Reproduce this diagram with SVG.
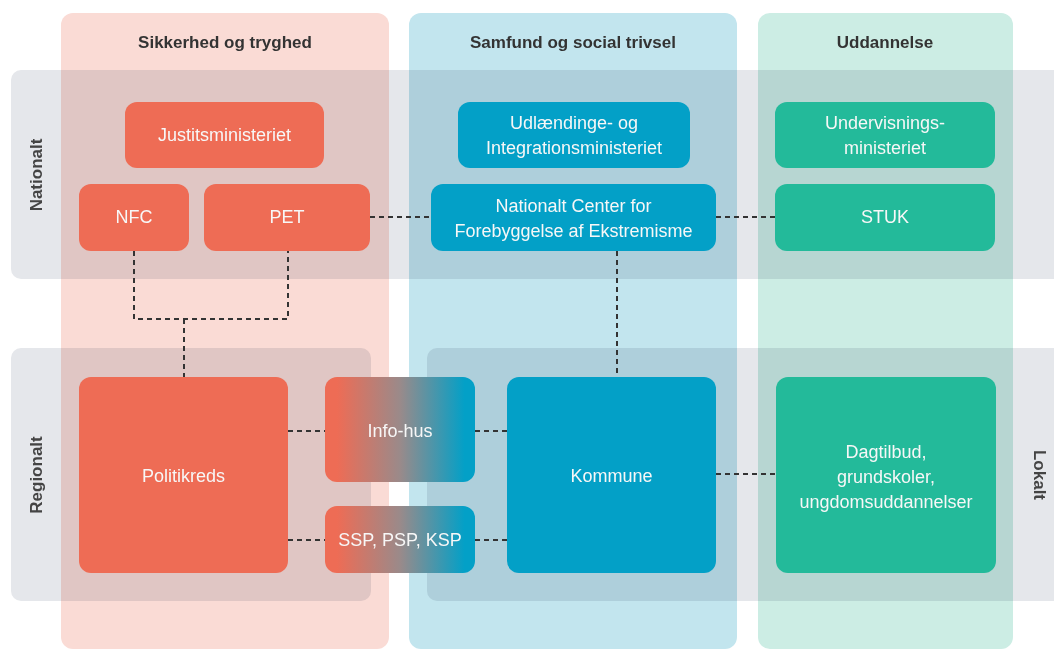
<svg xmlns="http://www.w3.org/2000/svg" width="1054" height="650" viewBox="0 0 1054 650">
<defs>
<style>
.col{stroke:none}
.row{fill:#E5E7EB;mix-blend-mode:multiply}
.hdr{font-family:"Liberation Sans",Arial,sans-serif;font-size:17px;font-weight:bold;fill:#333;text-anchor:middle}
.lvl{font-family:"Liberation Sans",Arial,sans-serif;font-size:17px;font-weight:bold;fill:#444;text-anchor:middle}
.red{fill:#EE6C55}
.blue{fill:#03A0C7}
.green{fill:#23BA9A}
.grad{fill:url(#g)}
.t{font-family:"Liberation Sans",Arial,sans-serif;font-size:18px;fill:#F7F7F7;text-anchor:middle;dominant-baseline:central}
.c{fill:none;stroke:#333;stroke-width:2;stroke-dasharray:5 4}
</style>
<linearGradient id="g" x1="0" y1="0" x2="1" y2="0">
<stop offset="0.08" stop-color="#EE6C55"/>
<stop offset="0.5" stop-color="#9A8A8A"/>
<stop offset="0.93" stop-color="#03A0C7"/>
</linearGradient>
</defs>
<rect width="1054" height="650" fill="#fff"/>
<g id="columns">
<rect class="col" x="61" y="13" width="328" height="636" rx="12" fill="#FADBD5"/>
<rect class="col" x="409" y="13" width="328" height="636" rx="12" fill="#C2E5EE"/>
<rect class="col" x="758" y="13" width="255" height="636" rx="12" fill="#CCEDE4"/>
</g>
<g id="rows">
<rect class="row" x="11" y="70" width="1060" height="209" rx="10"/>
<rect class="row" x="11" y="348" width="360" height="253" rx="10"/>
<rect class="row" x="427" y="348" width="640" height="253" rx="10"/>
</g>
<g id="labels">
<text class="hdr" x="225" y="48">Sikkerhed og tryghed</text>
<text class="hdr" x="573" y="48">Samfund og social trivsel</text>
<text class="hdr" x="885" y="48">Uddannelse</text>
<text class="lvl" transform="translate(42,175) rotate(-90)">Nationalt</text>
<text class="lvl" transform="translate(42,475) rotate(-90)">Regionalt</text>
<text class="lvl" transform="translate(1034,475) rotate(90)">Lokalt</text>
</g>
<g id="connectors">
<path class="c" d="M370 217H431"/>
<path class="c" d="M716 217H775"/>
<path class="c" d="M134 251V319H288V251"/>
<path class="c" d="M184 319V377"/>
<path class="c" d="M617 251V377"/>
<path class="c" d="M288 431H325"/>
<path class="c" d="M475 431H507"/>
<path class="c" d="M288 540H325"/>
<path class="c" d="M475 540H507"/>
<path class="c" d="M716 474H776"/>
</g>
<g id="justitsministeriet"><rect class="red" x="125" y="102" width="199" height="66" rx="12"/><text class="t" x="224.5" y="135">Justitsministeriet</text></g>
<g id="nfc"><rect class="red" x="79" y="184" width="110" height="67" rx="12"/><text class="t" x="134" y="217">NFC</text></g>
<g id="pet"><rect class="red" x="204" y="184" width="166" height="67" rx="12"/><text class="t" x="287" y="217">PET</text></g>
<g id="uim"><rect class="blue" x="458" y="102" width="232" height="66" rx="12"/><text class="t" x="574" y="123">Udlændinge- og</text><text class="t" x="574" y="148">Integrationsministeriet</text></g>
<g id="ncfe"><rect class="blue" x="431" y="184" width="285" height="67" rx="12"/><text class="t" x="573.5" y="206">Nationalt Center for</text><text class="t" x="573.5" y="231">Forebyggelse af Ekstremisme</text></g>
<g id="uvm"><rect class="green" x="775" y="102" width="220" height="66" rx="12"/><text class="t" x="885" y="123">Undervisnings-</text><text class="t" x="885" y="148">ministeriet</text></g>
<g id="stuk"><rect class="green" x="775" y="184" width="220" height="67" rx="12"/><text class="t" x="885" y="217">STUK</text></g>
<g id="politikreds"><rect class="red" x="79" y="377" width="209" height="196" rx="12"/><text class="t" x="183.5" y="476">Politikreds</text></g>
<g id="infohus"><rect class="grad" x="325" y="377" width="150" height="105" rx="12"/><text class="t" x="400" y="431">Info-hus</text></g>
<g id="ssp"><rect class="grad" x="325" y="506" width="150" height="67" rx="12"/><text class="t" x="400" y="540">SSP, PSP, KSP</text></g>
<g id="kommune"><rect class="blue" x="507" y="377" width="209" height="196" rx="12"/><text class="t" x="611.5" y="476">Kommune</text></g>
<g id="dagtilbud"><rect class="green" x="776" y="377" width="220" height="196" rx="12"/><text class="t" x="886" y="452">Dagtilbud,</text><text class="t" x="886" y="477">grundskoler,</text><text class="t" x="886" y="502">ungdomsuddannelser</text></g>
</svg>
